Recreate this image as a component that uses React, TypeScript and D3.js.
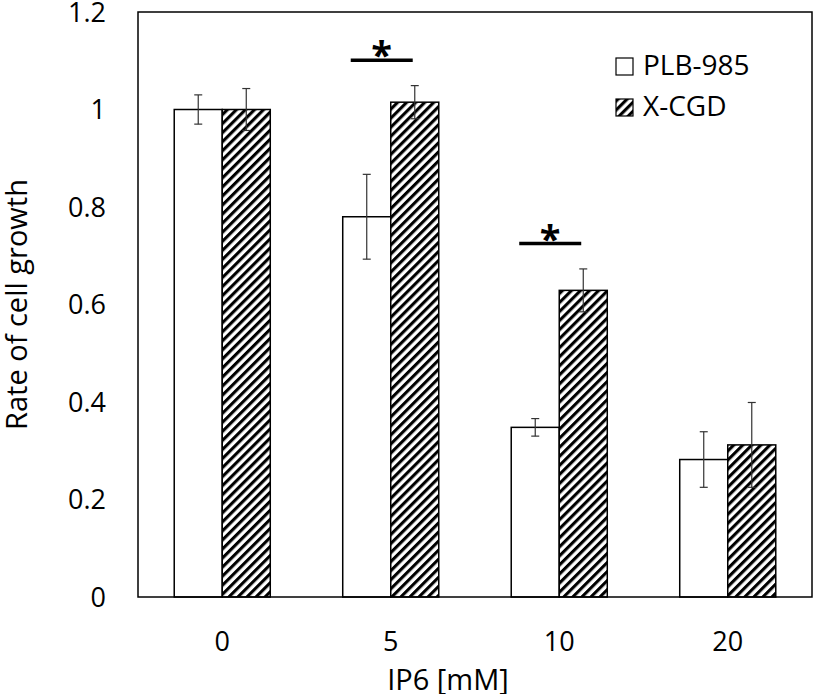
import React from "react";
import * as d3 from "d3";

const categories = ["0", "5", "10", "20"];
const seriesNames = ["PLB-985", "X-CGD"];
const plbValues = [1.0, 0.78, 0.348, 0.282];
const plbErrors = [0.03, 0.087, 0.018, 0.057];
const xcgdValues = [1.0, 1.015, 0.629, 0.312];
const xcgdErrors = [0.043, 0.034, 0.044, 0.087];
const yTicks = [0, 0.2, 0.4, 0.6, 0.8, 1, 1.2];
const significantGroups = ["5", "10"];
const xTitle = "IP6 [mM]";
const yTitle = "Rate of cell growth";

const W = 814;
const H = 694;
const left = 138;
const right = 812;
const top = 12;
const bottom = 597;
const FONT = "'Open Sans', sans-serif";

export default function App() {
  const x = d3.scaleBand<string>().domain(categories).range([left, right]).paddingInner(0.43).paddingOuter(0.215);
  const xs = d3.scaleBand<string>().domain(seriesNames).range([0, x.bandwidth()]).padding(0);
  const y = d3.scaleLinear().domain([0, 1.2]).range([bottom, top]);

  const series = [
    { name: seriesNames[0], values: plbValues, errors: plbErrors, fill: "#ffffff" },
    { name: seriesNames[1], values: xcgdValues, errors: xcgdErrors, fill: "url(#hatch)" },
  ];

  const fmt = (v: number) => (v === 0 || v === 1 ? String(v) : d3.format(".1f")(v));

  return (
    <svg width={W} height={H} style={{ position: "absolute", left: 0, top: 0, background: "#fff" }} fontFamily={FONT}>
      <defs>
        <pattern id="hatch" patternUnits="userSpaceOnUse" width={6.4} height={10} patternTransform="rotate(45)">
          <rect x={0} y={0} width={6.4} height={10} fill="#fff" />
          <rect x={0} y={0} width={3.1} height={10} fill="#000" />
        </pattern>
      </defs>
      <rect x={0} y={0} width={W} height={H} fill="#fff" />

      {/* bars */}
      {series.map((s) =>
        categories.map((c, i) => {
          const bx = (x(c) ?? 0) + (xs(s.name) ?? 0);
          const bw = xs.bandwidth();
          return (
            <rect
              key={s.name + c}
              x={bx}
              y={y(s.values[i])}
              width={bw}
              height={y(0) - y(s.values[i])}
              fill={s.fill}
              stroke="#000"
              strokeWidth={1.5}
            />
          );
        })
      )}

      {/* error bars */}
      {series.map((s) =>
        categories.map((c, i) => {
          const cx = (x(c) ?? 0) + (xs(s.name) ?? 0) + xs.bandwidth() / 2;
          const hi = y(s.values[i] + s.errors[i]);
          const lo = y(s.values[i] - s.errors[i]);
          return (
            <g key={"e" + s.name + c} stroke="#333" strokeWidth={1.2}>
              <line x1={cx} x2={cx} y1={hi} y2={lo} />
              <line x1={cx - 4} x2={cx + 4} y1={hi} y2={hi} />
              <line x1={cx - 4} x2={cx + 4} y1={lo} y2={lo} />
            </g>
          );
        })
      )}

      {/* frame */}
      <rect x={left} y={top} width={right - left} height={bottom - top} fill="none" stroke="#000" strokeWidth={1.5} />

      {/* significance */}
      {significantGroups.map((g) => {
        const i = categories.indexOf(g);
        const maxTop = Math.max(plbValues[i] + plbErrors[i], xcgdValues[i] + xcgdErrors[i]);
        const ly = y(maxTop + 0.052);
        const bs = x(g) ?? 0;
        const x1 = bs + 8;
        const x2 = bs + 70;
        return (
          <g key={"sig" + g}>
            <line x1={x1} x2={x2} y1={ly} y2={ly} stroke="#000" strokeWidth={3.5} />
            <text x={(x1 + x2) / 2} y={ly + 9} textAnchor="middle" fontSize={38} fontWeight="bold" fill="#000">
              *
            </text>
          </g>
        );
      })}

      {/* y ticks */}
      {yTicks.map((t) => (
        <text key={"yt" + t} x={106} y={y(t)} dy="0.36em" textAnchor="end" fontSize={27} fill="#000">
          {fmt(t)}
        </text>
      ))}

      {/* x ticks */}
      {categories.map((c) => (
        <text key={"xt" + c} x={(x(c) ?? 0) + x.bandwidth() / 2} y={651} textAnchor="middle" fontSize={27} fill="#000">
          {c}
        </text>
      ))}

      {/* axis titles */}
      <text x={448} y={690} textAnchor="middle" fontSize={29} fill="#000">
        {xTitle}
      </text>
      <text
        transform={`translate(${27}, ${(top + bottom) / 2}) rotate(-90)`}
        textAnchor="middle"
        fontSize={29}
        fill="#000"
      >
        {yTitle}
      </text>

      {/* legend */}
      {series.map((s, i) => (
        <g key={"lg" + s.name} transform={`translate(616, ${58 + i * 41})`}>
          <rect x={0} y={0} width={17} height={17} fill={s.fill} stroke="#000" strokeWidth={1.2} />
          <text x={27} y={17} fontSize={28} fill="#000">
            {s.name}
          </text>
        </g>
      ))}
    </svg>
  );
}
